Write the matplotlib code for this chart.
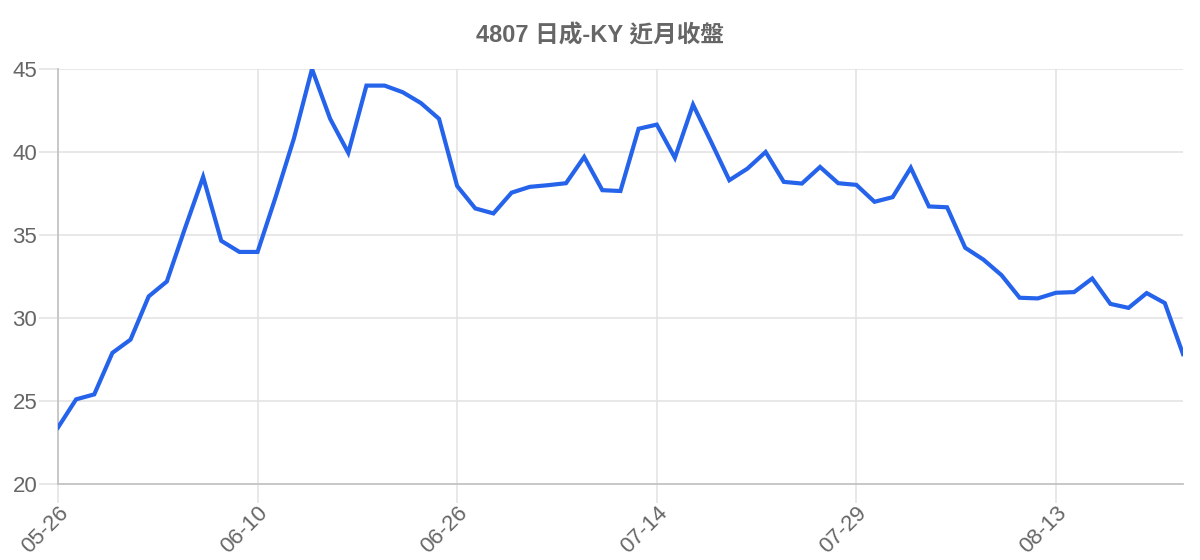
import matplotlib.pyplot as plt
from matplotlib.ticker import FixedLocator

# 4807 closing prices, one per trading day (63 days)
closes = [23.4, 25.1, 25.4, 27.9, 28.7, 31.3, 32.2, 35.4, 38.5, 34.65,
          33.98, 33.98, 37.3, 40.8, 45.0, 42.0, 39.95, 44.0, 44.0, 43.6,
          42.95, 42.0, 37.95, 36.6, 36.3, 37.55, 37.9, 38.0, 38.12, 39.7,
          37.7, 37.65, 41.4, 41.65, 39.65, 42.85, 40.6, 38.3, 39.0, 40.0,
          38.2, 38.1, 39.1, 38.12, 38.02, 37.0, 37.28, 39.05, 36.72, 36.67,
          34.23, 33.52, 32.58, 31.22, 31.18, 31.52, 31.56, 32.38, 30.85, 30.61,
          31.5, 30.9, 27.83]
tick_idx = [0, 11, 22, 33, 44, 55]
tick_labels = ['05-26', '06-10', '06-26', '07-14', '07-29', '08-13']
y_ticks = [20, 25, 30, 35, 40, 45]

TEXT = '#666666'
GRID = '#e2e2e2'
AXIS = '#c4c4c4'

plt.rcParams['font.family'] = ['Liberation Sans', 'Noto Sans CJK TC', 'DejaVu Sans']

fig = plt.figure(figsize=(12, 5.6), dpi=100)
ax = fig.add_axes([0.0483, 0.1357, 0.9375, 0.7411])

x = list(range(len(closes)))
ax.plot(x, closes, color='#2563eb', lw=3, solid_joinstyle='miter', zorder=3)

ax.set_xlim(0, len(closes) - 1)
ax.set_ylim(20, 45)
ax.xaxis.set_major_locator(FixedLocator(tick_idx))
ax.set_xticklabels(tick_labels, rotation=45, ha='right', rotation_mode='anchor')
ax.set_yticks(y_ticks)

ax.grid(True, color=GRID, lw=1.1)
ax.tick_params(axis='both', colors=GRID, labelcolor=TEXT, labelsize=16,
               length=14, width=1.1, pad=1)
ax.tick_params(axis='x', pad=-1)

for side in ['top', 'right']:
    ax.spines[side].set_visible(False)
ax.spines['left'].set_color(AXIS)
ax.spines['bottom'].set_color(AXIS)
ax.spines['left'].set_linewidth(1.3)
ax.spines['bottom'].set_linewidth(1.3)

fig.text(0.5, 0.935, '4807 日成-KY 近月收盤', ha='center', va='center',
         fontsize=17, fontweight='bold', color=TEXT)

fig.savefig('out.png', dpi=100)
